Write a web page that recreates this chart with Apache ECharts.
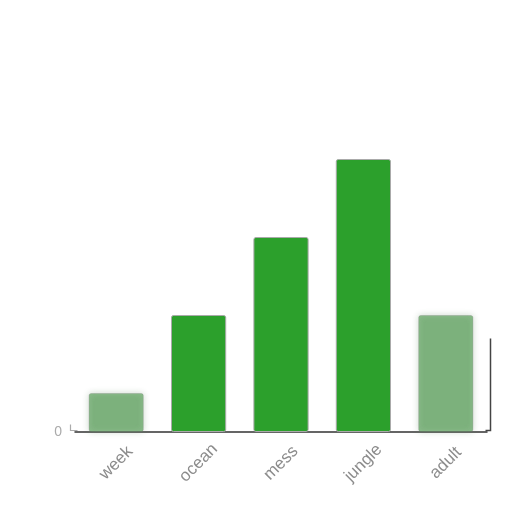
<!DOCTYPE html>
<html>
<head>
<meta charset="utf-8">
<script src="https://cdn.jsdelivr.net/npm/echarts@6/dist/echarts.min.js"></script>
<style>
  html, body { margin: 0; padding: 0; background: #fff; }
  #main { width: 512px; height: 512px; }
</style>
</head>
<body>
<div id="main"></div>
<script>
// values
const categories = ['week', 'ocean', 'mess', 'jungle', 'adult'];
const values = [1, 3, 5, 7, 3];
const blurred = [true, false, false, false, true];

const chart = echarts.init(document.getElementById('main'));

const barData = values.map(function (v, i) {
  if (!blurred[i]) {
    return v;
  }
  // first and last bars look smeared in the reference
  return {
    value: v,
    itemStyle: {
      color: 'rgba(70,150,70,0.6)',
      borderColor: 'rgba(120,120,120,0.25)',
      shadowBlur: 6,
      shadowColor: 'rgba(90,130,90,0.5)'
    }
  };
});

chart.setOption({
  animation: false,
  grid: { left: 75, right: 25, top: 42, bottom: 80 },
  xAxis: {
    type: 'category',
    data: categories,
    axisLine: { lineStyle: { color: '#333', width: 1.5 } },
    axisTick: { show: false },
    axisLabel: {
      rotate: 45,
      color: '#8c8c8c',
      fontSize: 17,
      fontFamily: 'Liberation Sans',
      align: 'center',
      verticalAlign: 'middle',
      margin: 31
    }
  },
  yAxis: {
    type: 'value',
    min: 0,
    max: 10,
    interval: 10,
    splitLine: { show: false },
    axisLine: { show: false },
    axisTick: { show: false },
    axisLabel: {
      color: '#aaa',
      fontSize: 14,
      margin: 13,
      formatter: function (v) { return v === 0 ? '0' : ''; }
    }
  },
  graphic: [{
    type: 'polyline',
    left: 68,
    bottom: 79,
    shape: { points: [[0, 0], [0, 6], [7, 6]] },
    style: { stroke: '#aaa', lineWidth: 1.2, fill: null }
  }, {
    type: 'polyline',
    right: 19,
    bottom: 79,
    shape: { points: [[0, 92], [5, 92], [5, 0]] },
    style: { stroke: '#444', lineWidth: 1.5, fill: null }
  }],
  series: [{
    type: 'bar',
    data: barData,
    barWidth: '67%',
    itemStyle: {
      color: '#2ca02c',
      borderColor: '#aaa',
      borderWidth: 1,
      borderRadius: 2
    }
  }]
});
</script>
</body>
</html>
